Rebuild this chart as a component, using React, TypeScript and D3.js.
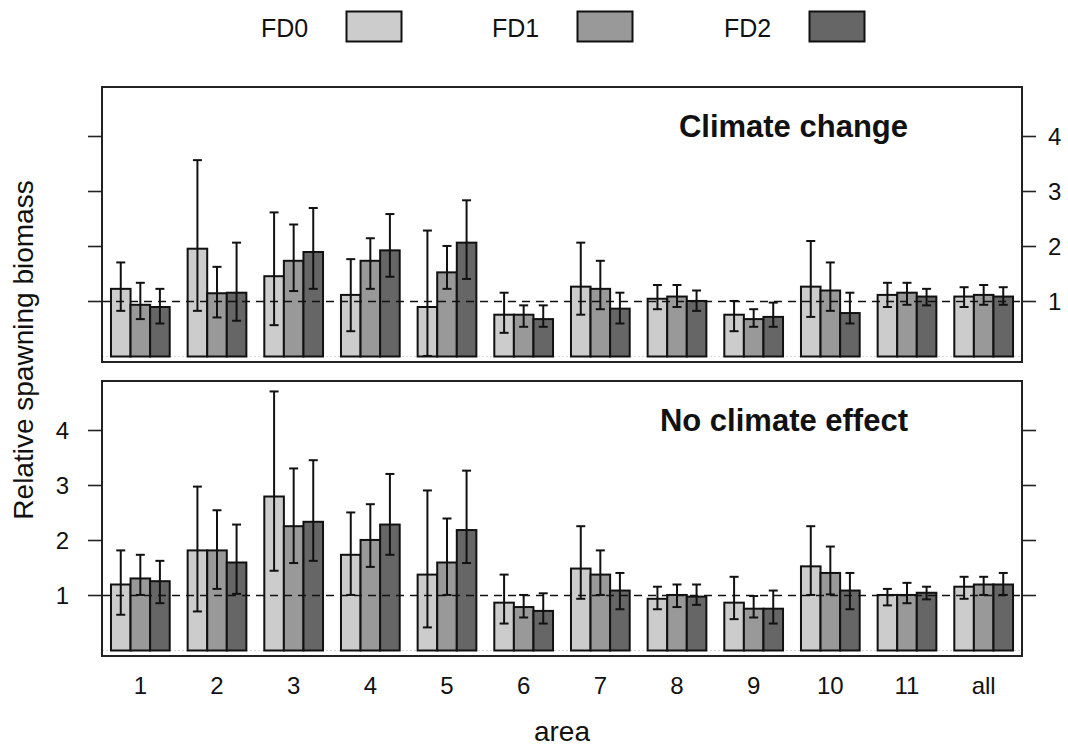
import React from "react";
import * as d3 from "d3";

const areas = ["1", "2", "3", "4", "5", "6", "7", "8", "9", "10", "11", "all"];
const seriesNames = ["FD0", "FD1", "FD2"];
const seriesColors = ["#cccccc", "#999999", "#666666"];
const yTicks = [1, 2, 3, 4];

// Climate change panel
const ccFD0 = [1.23, 1.96, 1.46, 1.12, 0.9, 0.76, 1.27, 1.05, 0.76, 1.27, 1.12, 1.09];
const ccFD1 = [0.94, 1.15, 1.74, 1.74, 1.53, 0.76, 1.23, 1.09, 0.68, 1.2, 1.16, 1.12];
const ccFD2 = [0.9, 1.16, 1.9, 1.93, 2.07, 0.68, 0.87, 1.01, 0.72, 0.79, 1.09, 1.09];
const ccFD0lo = [0.83, 0.83, 0.57, 0.46, 0.01, 0.43, 0.76, 0.86, 0.46, 0.72, 0.9, 0.9];
const ccFD0hi = [1.71, 3.57, 2.62, 1.77, 2.29, 1.16, 2.07, 1.3, 1.01, 2.1, 1.34, 1.26];
const ccFD1lo = [0.68, 0.71, 1.19, 1.23, 1.23, 0.54, 0.86, 0.9, 0.54, 0.83, 0.94, 0.94];
const ccFD1hi = [1.34, 1.63, 2.4, 2.15, 2.01, 0.93, 1.74, 1.3, 0.86, 1.71, 1.34, 1.3];
const ccFD2lo = [0.6, 0.65, 1.23, 1.45, 1.41, 0.54, 0.6, 0.83, 0.54, 0.6, 0.93, 0.94];
const ccFD2hi = [1.23, 2.07, 2.7, 2.59, 2.84, 0.93, 1.16, 1.2, 0.98, 1.16, 1.23, 1.26];

// No climate effect panel
const ncFD0 = [1.2, 1.82, 2.8, 1.74, 1.38, 0.87, 1.49, 0.94, 0.87, 1.53, 1.01, 1.16];
const ncFD1 = [1.31, 1.82, 2.26, 2.01, 1.6, 0.79, 1.38, 1.01, 0.76, 1.41, 1.01, 1.2];
const ncFD2 = [1.26, 1.6, 2.34, 2.29, 2.19, 0.72, 1.09, 0.98, 0.76, 1.09, 1.05, 1.2];
const ncFD0lo = [0.65, 0.71, 1.45, 1.01, 0.42, 0.49, 0.94, 0.75, 0.57, 1.01, 0.82, 0.94];
const ncFD0hi = [1.82, 2.98, 4.71, 2.51, 2.91, 1.38, 2.26, 1.16, 1.34, 2.26, 1.12, 1.34];
const ncFD1lo = [1.01, 1.12, 1.59, 1.52, 1.01, 0.6, 1.01, 0.79, 0.6, 1.02, 0.86, 1.01];
const ncFD1hi = [1.74, 2.55, 3.31, 2.66, 2.4, 1.01, 1.82, 1.2, 0.99, 1.89, 1.23, 1.34];
const ncFD2lo = [0.86, 1.03, 1.63, 1.74, 1.59, 0.49, 0.75, 0.83, 0.49, 0.75, 0.93, 1.01];
const ncFD2hi = [1.63, 2.29, 3.46, 3.21, 3.27, 1.04, 1.41, 1.2, 1.09, 1.41, 1.16, 1.41];

const panels = [
  {
    title: "Climate change",
    means: [ccFD0, ccFD1, ccFD2],
    lo: [ccFD0lo, ccFD1lo, ccFD2lo],
    hi: [ccFD0hi, ccFD1hi, ccFD2hi],
  },
  {
    title: "No climate effect",
    means: [ncFD0, ncFD1, ncFD2],
    lo: [ncFD0lo, ncFD1lo, ncFD2lo],
    hi: [ncFD0hi, ncFD1hi, ncFD2hi],
  },
];

const W = 1068;
const H = 747;
const left = 102;
const right = 1022;
const panelTops = [87, 381];
const panelH = 275;
const FONT = "'Liberation Sans', Arial, sans-serif";

export default function App() {
  const x = d3
    .scaleBand<string>()
    .domain(areas)
    .range([left, right])
    .paddingInner(0.234)
    .paddingOuter(0.117);
  const xs = d3.scaleBand<string>().domain(seriesNames).range([0, x.bandwidth()]);

  const legendX = [261, 492, 724];

  return (
    <svg
      width={W}
      height={H}
      style={{ position: "absolute", left: 0, top: 0, background: "#fff" }}
      fontFamily={FONT}
    >
      <rect width={W} height={H} fill="#fff" />
      {/* legend */}
      {seriesNames.map((s, i) => (
        <g key={s}>
          <text x={legendX[i]} y={37} fontSize={25} fill="#111">
            {s}
          </text>
          <rect
            x={legendX[i] + 85.5}
            y={11.5}
            width={55}
            height={30}
            fill={seriesColors[i]}
            stroke="#111"
            strokeWidth={2}
          />
        </g>
      ))}

      {panels.map((p, pi) => {
        const top = panelTops[pi];
        const y = d3.scaleLinear().domain([-0.1, 4.9]).range([top + panelH, top]);
        return (
          <g key={p.title}>
            {/* baseline */}
            <line
              x1={left}
              x2={right}
              y1={y(0)}
              y2={y(0)}
              stroke="#d8d8d8"
              strokeWidth={1}
              strokeDasharray="2,2"
            />
            {/* bars */}
            {p.means.map((vals, si) =>
              vals.map((v, ai) => (
                <rect
                  key={`b${si}-${ai}`}
                  x={(x(areas[ai]) as number) + (xs(seriesNames[si]) as number)}
                  y={y(v)}
                  width={xs.bandwidth()}
                  height={y(0) - y(v)}
                  fill={seriesColors[si]}
                  stroke="#111"
                  strokeWidth={2}
                />
              ))
            )}
            {/* reference line */}
            <line
              x1={left}
              x2={right}
              y1={y(1)}
              y2={y(1)}
              stroke="#111"
              strokeWidth={1.6}
              strokeDasharray="8,6"
            />
            {/* error bars */}
            {p.means.map((vals, si) =>
              vals.map((v, ai) => {
                const cx =
                  (x(areas[ai]) as number) +
                  (xs(seriesNames[si]) as number) +
                  xs.bandwidth() / 2;
                const y1 = y(p.lo[si][ai]);
                const y2 = y(p.hi[si][ai]);
                return (
                  <g key={`e${si}-${ai}`} stroke="#111" strokeWidth={2}>
                    <line x1={cx} x2={cx} y1={y1} y2={y2} />
                    <line x1={cx - 4.5} x2={cx + 4.5} y1={y1} y2={y1} />
                    <line x1={cx - 4.5} x2={cx + 4.5} y1={y2} y2={y2} />
                  </g>
                );
              })
            )}
            {/* panel border */}
            <rect
              x={left}
              y={top}
              width={right - left}
              height={panelH}
              fill="none"
              stroke="#222"
              strokeWidth={2}
            />
            {/* ticks */}
            {yTicks.map((t) => (
              <g key={`t${t}`} stroke="#222" strokeWidth={1.6}>
                <line x1={left - 14} x2={left} y1={y(t)} y2={y(t)} />
                <line x1={right} x2={right + 14} y1={y(t)} y2={y(t)} />
              </g>
            ))}
            {yTicks.map((t) =>
              pi === 0 ? (
                <text
                  key={`l${t}`}
                  x={right + 26}
                  y={y(t)}
                  dy="0.35em"
                  fontSize={24}
                  fill="#111"
                >
                  {t}
                </text>
              ) : (
                <text
                  key={`l${t}`}
                  x={left - 33}
                  y={y(t)}
                  dy="0.35em"
                  fontSize={24}
                  textAnchor="end"
                  fill="#111"
                >
                  {t}
                </text>
              )
            )}
            {/* title */}
            <text
              x={908}
              y={top + 50}
              fontSize={31}
              fontWeight="bold"
              textAnchor="end"
              fill="#111"
            >
              {p.title}
            </text>
          </g>
        );
      })}

      {/* x tick labels */}
      {areas.map((a) => (
        <text
          key={a}
          x={(x(a) as number) + x.bandwidth() / 2}
          y={694}
          fontSize={24}
          textAnchor="middle"
          fill="#111"
        >
          {a}
        </text>
      ))}
      <text x={(left + right) / 2} y={741} fontSize={28} textAnchor="middle" fill="#111">
        area
      </text>
      <text
        transform={`translate(33,${350}) rotate(-90)`}
        fontSize={28}
        textAnchor="middle"
        fill="#111"
      >
        Relative spawning biomass
      </text>
    </svg>
  );
}
